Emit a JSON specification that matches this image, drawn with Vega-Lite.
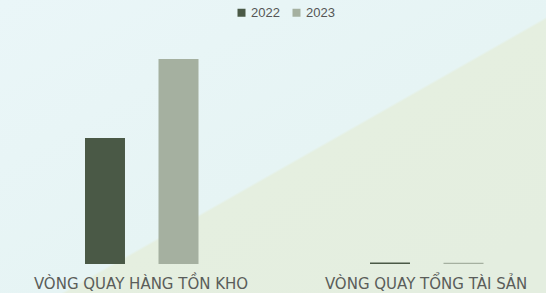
{
  "$schema": "https://vega.github.io/schema/vega-lite/v6.json",
  "width": 546,
  "height": 293,
  "autosize": {"type": "none"},
  "padding": 0,
  "background": "#e6f1ea",
  "config": {
    "view": {
      "stroke": null,
      "fill": {
        "gradient": "linear",
        "x1": 0, "y1": 0, "x2": 0.93, "y2": 0.877,
        "stops": [
          {"offset": 0, "color": "#eaf6f8"},
          {"offset": 0.6, "color": "#e6f4f4"},
          {"offset": 0.605, "color": "#e5efe0"},
          {"offset": 1, "color": "#e4eee0"}
        ]
      }
    }
  },
  "data": {
    "values": [
      {"category": "VÒNG QUAY HÀNG TỒN KHO", "year": "2022", "value": 12.3},
      {"category": "VÒNG QUAY HÀNG TỒN KHO", "year": "2023", "value": 20.0},
      {"category": "VÒNG QUAY TỔNG TÀI SẢN", "year": "2022", "value": 0.15},
      {"category": "VÒNG QUAY TỔNG TÀI SẢN", "year": "2023", "value": 0.12}
    ]
  },
  "mark": {"type": "bar"},
  "encoding": {
    "x": {
      "field": "category",
      "type": "nominal",
      "sort": null,
      "scale": {"range": [-1.5, 568.5], "paddingInner": 0, "paddingOuter": 0},
      "axis": {
        "title": null,
        "domain": false,
        "ticks": false,
        "labelAngle": 0,
        "labelPadding": -17,
        "labelLimit": 0,
        "labelFont": "DejaVu Sans",
        "labelFontSize": 15,
        "labelColor": "#5a5d5a",
        "labelBaseline": "top"
      }
    },
    "xOffset": {
      "field": "year",
      "type": "nominal",
      "scale": {"range": [86.5, 200], "paddingInner": 0.456, "paddingOuter": 0}
    },
    "y": {
      "field": "value",
      "type": "quantitative",
      "scale": {"domain": [0, 20], "range": [264, 59], "nice": false, "zero": true},
      "axis": null
    },
    "color": {
      "field": "year",
      "type": "nominal",
      "scale": {"domain": ["2022", "2023"], "range": ["#4a5946", "#a5b0a0"]},
      "legend": {
        "title": null,
        "orient": "none",
        "direction": "horizontal",
        "legendX": 235,
        "legendY": 6,
        "symbolType": "square",
        "symbolSize": 64,
        "symbolStrokeWidth": 0,
        "labelFont": "Liberation Sans",
        "labelFontSize": 13,
        "labelColor": "#555555",
        "labelOffset": 3,
        "columnPadding": 10
      }
    }
  }
}
